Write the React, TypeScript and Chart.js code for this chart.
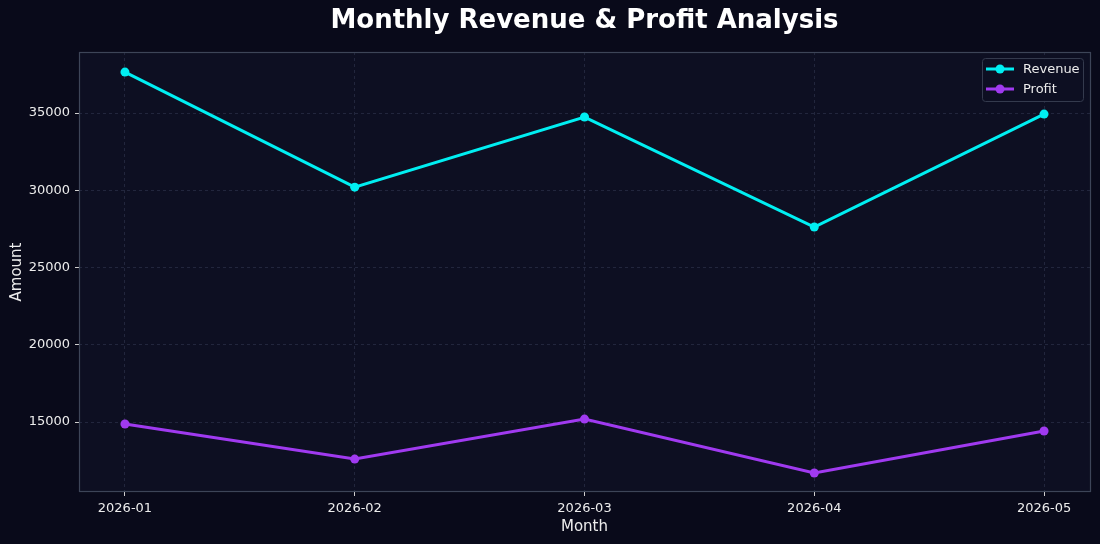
import React, { useEffect, useRef } from "react";
import { Chart, registerables } from "chart.js";

Chart.register(...registerables);

const months = ["2026-01", "2026-02", "2026-03", "2026-04", "2026-05"];
const revenue = [37650, 30200, 34740, 27620, 34930];
const profit = [14870, 12600, 15190, 11700, 14420];
const yTickValues = [15000, 20000, 25000, 30000, 35000];
const yMin = 10470;
const yMax = 38950;

const BG = "#090a1a";
const PLOT_BG = "#0d0f22";
const GRID = "rgba(120,130,170,0.2)";
const FRAME = "#3d4558";
const TEXT = "#ececec";
const FONT = "'DejaVu Sans', sans-serif";

const decorPlugin = {
  id: "decor",
  beforeDraw(chart: any) {
    const { ctx, chartArea, width, height } = chart;
    ctx.save();
    ctx.fillStyle = BG;
    ctx.fillRect(0, 0, width, height);
    ctx.fillStyle = PLOT_BG;
    ctx.fillRect(chartArea.left, chartArea.top, chartArea.right - chartArea.left, chartArea.bottom - chartArea.top);
    ctx.restore();
  },
  afterDraw(chart: any) {
    const { ctx, chartArea } = chart;
    ctx.save();
    ctx.strokeStyle = FRAME;
    ctx.lineWidth = 1.2;
    ctx.strokeRect(chartArea.left + 0.5, chartArea.top + 0.5, chartArea.right - chartArea.left, chartArea.bottom - chartArea.top - 1);
    // title
    ctx.fillStyle = "#ffffff";
    ctx.font = `bold 26px ${FONT}`;
    ctx.textAlign = "center";
    ctx.textBaseline = "middle";
    ctx.fillText("Monthly Revenue & Profit Analysis", (chartArea.left + chartArea.right) / 2, 21);
    // legend
    const bx = 982, by = 58, bw = 101, bh = 43;
    ctx.fillStyle = "rgba(13,15,34,0.9)";
    ctx.strokeStyle = "#343a4d";
    ctx.lineWidth = 1;
    ctx.beginPath();
    (ctx as any).roundRect(bx + 0.5, by + 0.5, bw, bh, 3);
    ctx.fill();
    ctx.stroke();
    chart.data.datasets.forEach((ds: any, i: number) => {
      const y = 69 + i * 20;
      ctx.strokeStyle = ds.borderColor;
      ctx.lineWidth = 3;
      ctx.beginPath();
      ctx.moveTo(986, y);
      ctx.lineTo(1014, y);
      ctx.stroke();
      ctx.fillStyle = ds.borderColor;
      ctx.beginPath();
      ctx.arc(1000, y, 4.5, 0, Math.PI * 2);
      ctx.fill();
      ctx.fillStyle = TEXT;
      ctx.font = `13px ${FONT}`;
      ctx.textAlign = "left";
      ctx.textBaseline = "middle";
      ctx.fillText(ds.label, 1023, y + 1);
    });
    ctx.restore();
  },
};

export default function App() {
  const ref = useRef<HTMLCanvasElement | null>(null);
  useEffect(() => {
    document.body.style.margin = "0";
    document.body.style.background = BG;
    const canvas = ref.current!;
    const chart = new Chart(canvas, {
      type: "line",
      data: {
        datasets: [
          {
            label: "Revenue",
            data: revenue.map((v, i) => ({ x: i, y: v })),
            borderColor: "#00eff2",
            backgroundColor: "#00eff2",
            borderWidth: 3,
            pointRadius: 4.5,
            pointHoverRadius: 4.5,
            pointBorderWidth: 0,
            tension: 0,
          },
          {
            label: "Profit",
            data: profit.map((v, i) => ({ x: i, y: v })),
            borderColor: "#a03af0",
            backgroundColor: "#a03af0",
            borderWidth: 3,
            pointRadius: 4.5,
            pointHoverRadius: 4.5,
            pointBorderWidth: 0,
            tension: 0,
          },
        ],
      },
      options: {
        animation: false,
        responsive: false,
        devicePixelRatio: 1,
        layout: { padding: { left: 0, right: 10, top: 52, bottom: 0 } },
        plugins: { legend: { display: false }, title: { display: false }, tooltip: { enabled: false } },
        scales: {
          x: {
            type: "linear",
            min: -0.2,
            max: 4.2,
            afterBuildTicks: (s: any) => {
              s.ticks = months.map((_, i) => ({ value: i }));
            },
            afterFit: (s: any) => {
              s.height = 52;
            },
            ticks: {
              color: TEXT,
              font: { family: FONT, size: 13 },
              padding: 5,
              maxRotation: 0,
              autoSkip: false,
              callback: (v: any) => months[Math.round(Number(v))] ?? "",
            },
            grid: { color: GRID, lineWidth: 1, tickColor: "#d0d0d0", tickLength: 4, tickWidth: 1 },
            border: { display: false, dash: [3, 3] },
            title: { display: true, text: "Month", color: TEXT, font: { family: FONT, size: 15 }, padding: { top: 0, bottom: 8 } },
          },
          y: {
            type: "linear",
            min: yMin,
            max: yMax,
            afterBuildTicks: (s: any) => {
              s.ticks = yTickValues.map((v) => ({ value: v }));
            },
            afterFit: (s: any) => {
              s.width = 79;
            },
            ticks: {
              color: TEXT,
              font: { family: FONT, size: 13 },
              padding: 5,
              callback: (v: any) => String(v),
            },
            grid: { color: GRID, lineWidth: 1, tickColor: "#d0d0d0", tickLength: 4, tickWidth: 1 },
            border: { display: false, dash: [3, 3] },
            title: { display: true, text: "Amount", color: TEXT, font: { family: FONT, size: 15 }, padding: { top: 8, bottom: 0 } },
          },
        },
      },
      plugins: [decorPlugin],
    } as any);
    return () => chart.destroy();
  }, []);
  return <canvas ref={ref} width={1100} height={544} style={{ display: "block" }} />;
}
